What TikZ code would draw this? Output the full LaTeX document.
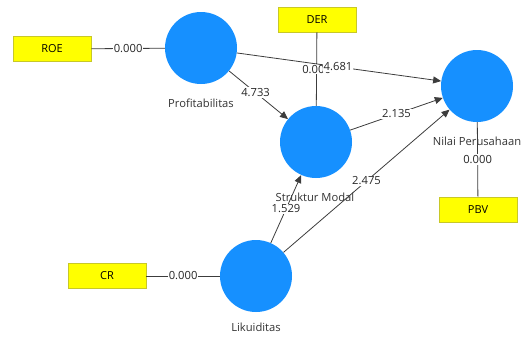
\documentclass[tikz,border=0pt]{standalone}
\usepackage{fontspec}
\setmainfont{Open Sans}
\usetikzlibrary{arrows.meta}
\definecolor{lvblue}{RGB}{22,144,255}
\definecolor{indy}{RGB}{255,255,0}
\definecolor{indyborder}{RGB}{200,200,40}
\definecolor{linegray}{RGB}{60,60,60}
\tikzset{
  latent/.style={circle,fill=lvblue,draw=none,minimum size=72pt,inner sep=0pt},
  indicator/.style={rectangle,fill=indy,draw=indyborder,line width=0.8pt,minimum width=78pt,minimum height=25pt,inner sep=0pt,font=\fontsize{11}{12}\selectfont},
  lvlabel/.style={font=\fontsize{11.2}{12}\selectfont,text=black!80,inner sep=0pt},
  wlabel/.style={fill=white,inner sep=1pt,font=\fontsize{11.2}{12}\selectfont,text=black!85},
  conn/.style={draw=linegray,line width=0.8pt},
  path/.style={conn,-{Triangle[length=8pt,width=7pt]}},
}
\begin{document}
\begin{tikzpicture}[x=1pt,y=-1pt]
\useasboundingbox (0,0) rectangle (526,338);
% latent variables
\node[latent] (prof) at (201,48) {};
\node[latent] (nilai) at (477,86) {};
\node[latent] (struk) at (316,142) {};
\node[latent] (liku) at (256,276) {};
% indicators
\node[indicator] (roe) at (52,49) {ROE};
\node[indicator] (der) at (317,19.5) {DER};
\node[indicator] (cr) at (107,276) {CR};
\node[indicator] (pbv) at (478,209.5) {PBV};
% names
\node[lvlabel] (lprof) at (201,103) {Profitabilitas};
\node[lvlabel] (lnilai) at (477,141) {Nilai Perusahaan};
\node[lvlabel] (lstruk) at (315,197) {Struktur Modal};
\node[lvlabel] (lliku) at (256,327) {Likuiditas};
% outer model
\draw[conn] (roe) -- node[wlabel] (w1) {0.000} (prof);
\draw[conn] (cr) -- node[wlabel] (w2) {0.000} (liku);
\draw[conn] (nilai) -- node[wlabel] (w3) {0.000} (pbv);
\draw[conn] (der) -- node[wlabel] (w4) {0.000} (struk);
% inner model
\draw[path] (prof) -- node[wlabel,pos=0.45] (w5) {4.733} (struk);
\draw[path] (prof) -- node[wlabel,xshift=-1pt] (w6) {4.681} (nilai);
\draw[path] (struk) -- node[wlabel] (w7) {2.135} (nilai);
\draw[path] (liku) -- node[wlabel] (w8) {2.475} (nilai);
\draw[path] (liku) -- node[wlabel] (w9) {1.529} (struk);
\end{tikzpicture}
\end{document}
